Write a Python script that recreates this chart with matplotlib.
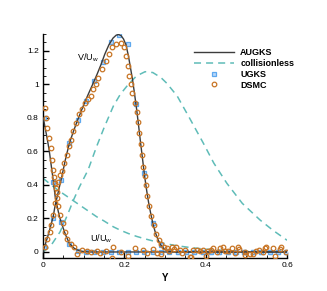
import numpy as np
import matplotlib
matplotlib.use('Agg')
from matplotlib import pyplot as plt
from matplotlib.ticker import MultipleLocator, FuncFormatter

plt.rcParams['font.family'] = ['Liberation Sans', 'DejaVu Sans']
plt.rcParams['mathtext.fontset'] = 'custom'
plt.rcParams['mathtext.rm'] = 'Liberation Sans'

# AUGKS solution (solid line)
y_augks = [0.0, 0.003, 0.01, 0.015, 0.02, 0.025, 0.03, 0.035, 0.04, 0.046, 0.055, 0.065,
           0.075, 0.084, 0.094, 0.103, 0.113, 0.124, 0.133, 0.143, 0.152, 0.162, 0.172,
           0.18, 0.186, 0.192, 0.198, 0.204, 0.21, 0.215, 0.22, 0.225, 0.23, 0.235, 0.24,
           0.245, 0.25, 0.255, 0.26, 0.265, 0.27, 0.275, 0.28, 0.285, 0.29, 0.295, 0.3,
           0.31, 0.33, 0.4, 0.5, 0.6]
v_augks = [0.0, 0.025, 0.08, 0.12, 0.165, 0.21, 0.28, 0.33, 0.385, 0.446, 0.55, 0.65,
           0.72, 0.78, 0.84, 0.895, 0.95, 1.01, 1.06, 1.12, 1.18, 1.235, 1.275,
           1.293, 1.297, 1.29, 1.27, 1.235, 1.17, 1.1, 1.03, 0.945, 0.855, 0.755, 0.65,
           0.55, 0.45, 0.365, 0.29, 0.228, 0.172, 0.127, 0.09, 0.062, 0.04, 0.025, 0.014,
           0.004, 0.0, 0.0, 0.0, 0.0]
u_augks = [0.8, 0.77, 0.68, 0.61, 0.52, 0.43, 0.33, 0.27, 0.215, 0.168, 0.105, 0.05,
           0.025, 0.012, 0.005, 0.002, 0.0, 0.0, 0.0, 0.0, 0.0, 0.0, 0.0,
           0.0, 0.0, 0.0, 0.0, 0.0, 0.0, 0.0, 0.0, 0.0, 0.0, 0.0, 0.0,
           0.0, 0.0, 0.0, 0.0, 0.0, 0.0, 0.0, 0.0, 0.0, 0.0, 0.0, 0.0,
           0.0, 0.0, 0.0, 0.0, 0.0]

# collisionless solution (dashed)
y_free = [0.0, 0.02, 0.042, 0.06, 0.075, 0.09, 0.111, 0.132, 0.15, 0.173, 0.19, 0.21,
          0.23, 0.251, 0.27, 0.29, 0.304, 0.33, 0.36, 0.394, 0.42, 0.452, 0.49, 0.534,
          0.565, 0.6]
v_free = [0.0, 0.04, 0.12, 0.22, 0.31, 0.39, 0.49, 0.63, 0.74, 0.87, 0.94, 1.0,
          1.05, 1.075, 1.07, 1.04, 1.007, 0.93, 0.8, 0.65, 0.53, 0.41, 0.29, 0.19,
          0.13, 0.07]
u_free = [0.44, 0.40, 0.36, 0.33, 0.305, 0.28, 0.245, 0.21, 0.185, 0.15, 0.13, 0.11,
          0.093, 0.078, 0.066, 0.055, 0.048, 0.037, 0.027, 0.018, 0.013, 0.008, 0.004, 0.002,
          0.001, 0.0]

# UGKS
y_ugks = [0.003, 0.024, 0.044, 0.065, 0.085, 0.106, 0.126, 0.147, 0.167, 0.188, 0.208,
          0.229, 0.249, 0.27, 0.29, 0.311, 0.331, 0.352, 0.372, 0.393, 0.413, 0.434,
          0.454, 0.475, 0.495, 0.516, 0.536, 0.557, 0.577, 0.598]
v_ugks = [0.03, 0.2, 0.43, 0.65, 0.79, 0.9, 1.02, 1.13, 1.255, 1.295, 1.24,
          0.88, 0.47, 0.17, 0.04, 0.003, 0.0, 0.0, 0.0, 0.0, 0.0, 0.0,
          0.0, 0.0, 0.0, 0.0, 0.0, 0.0, 0.0, 0.0]
u_ugks = [0.8, 0.42, 0.18, 0.046, 0.008, 0.0, 0.0, 0.0, 0.0, 0.0, 0.0,
          0.0, 0.0, 0.0, 0.0, 0.0, 0.0, 0.0, 0.0, 0.0, 0.0, 0.0,
          0.0, 0.0, 0.0, 0.0, 0.0, 0.0, 0.0, 0.0]

# DSMC
y_dsmc_v = [0.004, 0.011, 0.016, 0.02, 0.025, 0.029, 0.034, 0.038, 0.042, 0.046, 0.052,
            0.058, 0.063, 0.068, 0.073, 0.081, 0.088, 0.097, 0.103, 0.11, 0.117, 0.124,
            0.13, 0.136, 0.146, 0.155, 0.162, 0.17, 0.18, 0.191, 0.2, 0.205, 0.208,
            0.212, 0.216, 0.22, 0.226, 0.23, 0.233, 0.237, 0.24, 0.244, 0.247, 0.25,
            0.253, 0.256, 0.261, 0.266, 0.272, 0.279, 0.285, 0.291, 0.297, 0.304, 0.316,
            0.327, 0.337, 0.349, 0.363, 0.378, 0.393, 0.406, 0.419, 0.435, 0.448, 0.464,
            0.483, 0.497, 0.517, 0.532, 0.546, 0.565, 0.583, 0.598]
v_dsmc = [0.03, 0.075, 0.12, 0.16, 0.22, 0.29, 0.36, 0.42, 0.46, 0.48, 0.53,
          0.58, 0.63, 0.67, 0.72, 0.77, 0.82, 0.85, 0.89, 0.91, 0.93, 0.97,
          1.0, 1.04, 1.09, 1.14, 1.18, 1.22, 1.24, 1.245, 1.22, 1.17, 1.11,
          1.05, 1.0, 0.95, 0.89, 0.834, 0.774, 0.709, 0.643, 0.579, 0.509, 0.454,
          0.398, 0.336, 0.275, 0.215, 0.161, 0.11, 0.07, 0.045, 0.03, 0.022, 0.032,
          0.032, 0.012, 0.012, -0.028, 0.012, 0.012, 0.008, 0.022, 0.026, 0.006, 0.026,
          0.018, 0.002, -0.014, 0.012, 0.022, 0.026, 0.018, 0.002]
y_dsmc_u = [0.004, 0.008, 0.011, 0.015, 0.019, 0.021, 0.024, 0.027, 0.03, 0.032, 0.035,
            0.038, 0.042, 0.048, 0.054, 0.06, 0.068, 0.075, 0.084, 0.095, 0.107, 0.117,
            0.133, 0.14, 0.155, 0.17, 0.173, 0.193, 0.21, 0.226, 0.247, 0.255, 0.27,
            0.28, 0.289, 0.31, 0.322, 0.343, 0.361, 0.37, 0.385, 0.4, 0.412, 0.427,
            0.442, 0.456, 0.472, 0.48, 0.497, 0.51, 0.524, 0.54, 0.548, 0.57, 0.585]
u_dsmc = [0.86, 0.8, 0.74, 0.68, 0.62, 0.55, 0.49, 0.446, 0.41, 0.38, 0.32,
          0.275, 0.22, 0.17, 0.12, 0.08, 0.05, 0.028, -0.012, 0.012, 0.006, 0.0,
          0.008, -0.008, 0.004, -0.034, 0.028, 0.002, -0.022, 0.022, 0.012, -0.008, 0.016,
          -0.008, -0.012, 0.006, 0.02, -0.006, -0.028, 0.01, 0.004, -0.024, 0.014, 0.0,
          0.028, 0.004, -0.006, 0.028, -0.018, -0.01, 0.008, 0.0, 0.028, -0.024, 0.028]

fig = plt.figure(figsize=(3.27, 2.91), dpi=100)
ax = fig.add_axes([0.1315, 0.1134, 0.7462, 0.7698])

ax.plot(y_free, v_free, color='#5fbcb8', lw=1.1, dashes=(4.6, 3.3), label='collisionless', zorder=1)
ax.plot(y_free, u_free, color='#5fbcb8', lw=1.1, dashes=(4.6, 3.3), zorder=1)
ax.plot(y_augks, v_augks, color='#3c3c3c', lw=1.0, label='AUGKS', zorder=3)
ax.plot(y_augks, u_augks, color='#3c3c3c', lw=1.0, zorder=3)
ax.plot(y_ugks, v_ugks, 's', ms=3.3, mfc='#b8d8fa', mec='#5ea8ee', mew=0.9, label='UGKS', zorder=2)
ax.plot(y_ugks, u_ugks, 's', ms=3.3, mfc='#b8d8fa', mec='#5ea8ee', mew=0.9, zorder=2)
ax.plot(y_dsmc_v, v_dsmc, 'o', ms=3.3, mfc='none', mec='#c87424', mew=0.9, label='DSMC', zorder=4)
ax.plot(y_dsmc_u, u_dsmc, 'o', ms=3.3, mfc='none', mec='#c87424', mew=0.9, zorder=4)

ax.set_xlim(0, 0.6)
ax.set_ylim(-0.036, 1.3)
ax.spines['top'].set_visible(False)
ax.spines['right'].set_visible(False)
ax.spines['left'].set_linewidth(1.0)
ax.spines['bottom'].set_linewidth(1.0)
ax.xaxis.set_major_locator(MultipleLocator(0.2))
ax.xaxis.set_minor_locator(MultipleLocator(0.05))
ax.yaxis.set_major_locator(MultipleLocator(0.2))
ax.yaxis.set_minor_locator(MultipleLocator(0.05))
fmt = FuncFormatter(lambda v, p: '%g' % round(v, 2))
ax.xaxis.set_major_formatter(fmt)
ax.yaxis.set_major_formatter(fmt)
ax.tick_params(which='major', direction='in', length=4, width=1.0, labelsize=6, pad=3)
ax.tick_params(which='minor', direction='in', length=2, width=0.6)
ax.set_xlabel('Y', fontsize=7, fontweight='bold', labelpad=3)

ax.text(0.083, 1.16, 'V/U$_\\mathregular{w}$', fontsize=6.5, va='center')
ax.text(0.115, 0.077, 'U/U$_\\mathregular{w}$', fontsize=6.5, va='center')

h, l = ax.get_legend_handles_labels()
order = [1, 0, 2, 3]
leg = ax.legend([h[i] for i in order], [l[i] for i in order], loc='upper left',
                bbox_to_anchor=(0.58, 0.85), bbox_transform=fig.transFigure,
                frameon=False, borderpad=0, handlelength=4.4, handletextpad=0.7,
                labelspacing=0.2, prop={'size': 6.5, 'weight': 'bold'})

plt.savefig('out.png', dpi=100)
plt.close()
